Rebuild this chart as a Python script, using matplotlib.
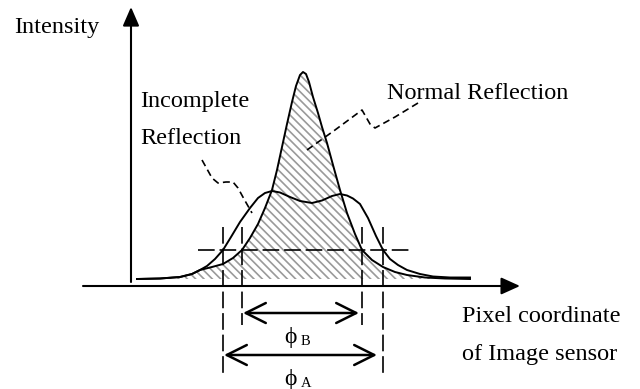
import matplotlib.pyplot as plt
import numpy as np

plt.rcParams["font.family"] = ["Liberation Serif", "DejaVu Serif"]
plt.rcParams["lines.scale_dashes"] = False
plt.rcParams["hatch.linewidth"] = 1.2

# Intensity profiles along the pixel coordinate (drawing units)
pixel_normal = [137, 160, 180, 192, 200, 212, 223, 233, 242, 250, 258, 265, 272,
                277, 282, 287, 292, 296, 300, 303, 306, 309, 313, 318, 322, 327,
                333, 340, 347, 355, 362, 372, 383, 395, 407, 425, 445, 470]
intensity_normal = [110, 110.5, 112, 115, 119, 122, 125, 131, 139, 151, 165, 181, 199,
                    219, 242, 265, 287, 303, 314, 317, 315, 307, 292, 276, 262, 246,
                    224, 199, 176, 155, 139, 129, 122, 117, 114, 111.5, 110.5, 110]

pixel_incomplete = [137, 160, 180, 192, 200, 207, 215, 223, 231, 240, 250, 258, 265,
                    272, 280, 290, 300, 312, 322, 332, 340, 347, 353, 360, 368, 376,
                    383, 390, 398, 407, 420, 433, 450, 470]
intensity_incomplete = [110, 110.5, 112, 115, 119, 123, 130, 139, 152, 167, 181, 191, 196,
                        198, 196.5, 192, 188, 186, 188.5, 193, 195, 193.5, 190.5, 185, 171, 153,
                        139, 130, 124, 119, 115, 112.5, 111.5, 111.5]

threshold = 139
edges_a = [223, 383]   # incomplete reflection crossing the threshold
edges_b = [242, 362]   # normal reflection crossing the threshold

fig = plt.figure(figsize=(6.4, 3.89), dpi=100)
ax = fig.add_axes([0, 0, 1, 1])
ax.set_xlim(0, 640)
ax.set_ylim(0, 389)
ax.axis("off")

# hatched area under the normal reflection profile
ax.fill_between(pixel_normal, 110, intensity_normal, facecolor="none",
                edgecolor="#9a9a9a", hatch="\\\\\\\\", linewidth=0)

ax.plot(pixel_normal, intensity_normal, color="black", lw=1.4)
ax.plot(pixel_incomplete, intensity_incomplete, color="black", lw=1.4)

# axes with filled arrow heads
ax.annotate("", xy=(131, 382), xytext=(131, 107),
            arrowprops=dict(arrowstyle="-|>,head_length=1.15,head_width=0.5",
                            color="black", lw=1.5, shrinkA=0, shrinkB=0,
                            mutation_scale=10))
ax.annotate("", xy=(520, 103), xytext=(83, 103),
            arrowprops=dict(arrowstyle="-|>,head_length=1.15,head_width=0.52",
                            color="black", lw=1.5, shrinkA=0, shrinkB=0,
                            mutation_scale=10))

dash = dict(color="black", lw=1.2, dashes=(12, 3.5))

# threshold level
ax.plot([198, 410], [threshold, threshold], **dash)

# width markers
for x in edges_a:
    ax.plot([x, x], [162, 16], **dash)
for x in edges_b:
    ax.plot([x, x], [162, 64], **dash)

arrow_open = dict(arrowstyle="<->,head_length=0.72,head_width=0.36",
                  color="black", lw=1.8, shrinkA=0, shrinkB=0, mutation_scale=20)
ax.annotate("", xy=(edges_b[0] + 1, 76), xytext=(edges_b[1] - 3, 76),
            arrowprops=arrow_open)
ax.annotate("", xy=(edges_a[0] + 1, 34), xytext=(edges_a[1] - 6, 34),
            arrowprops=arrow_open)

ax.text(284, 46, "ϕ", fontsize=17, va="baseline")
ax.text(301, 44, "B", fontsize=10.5, va="baseline")
ax.text(284, 4, "ϕ", fontsize=17, va="baseline")
ax.text(301, 2, "A", fontsize=10.5, va="baseline")

# leader lines to the labels
leader = dict(color="black", lw=1.2, dashes=(5, 3))
ax.plot([202, 207, 212, 218, 226, 233, 238, 244, 252],
        [229, 220, 211, 206, 207, 207, 201, 190, 176], **leader)
ax.plot([307, 335, 362, 366, 370, 375, 395, 418],
        [239, 259, 279, 272, 265, 261, 272, 286], **leader)

fs = 17.5
ax.text(14, 356, "Intensity", fontsize=fs, va="baseline")
ax.text(140, 282, "Incomplete", fontsize=fs, va="baseline")
ax.text(140, 245, "Reflection", fontsize=fs, va="baseline")
ax.text(387, 290, "Normal Reflection", fontsize=fs, va="baseline")
ax.text(462, 67, "Pixel coordinate", fontsize=fs, va="baseline")
ax.text(462, 29, "of Image sensor", fontsize=fs, va="baseline")

fig.savefig("out.png", dpi=100)
